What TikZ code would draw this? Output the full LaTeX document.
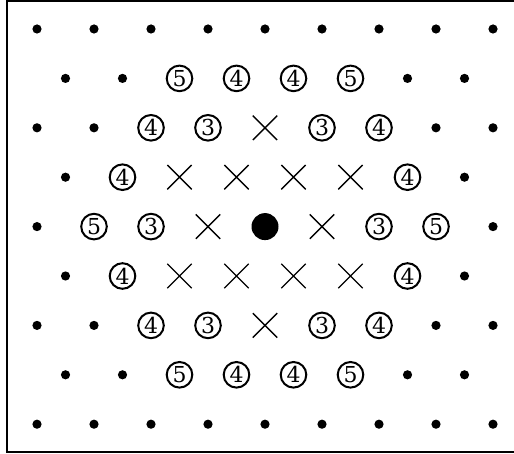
\documentclass[tikz,border=0pt]{standalone}
\usepackage{fontspec}
\newfontfamily\digitfont{DejaVu Serif}
\usetikzlibrary{shapes.misc}
\begin{document}
\begin{tikzpicture}[
  x=0.5pt, y=-0.5pt,
  dot/.style={circle,fill,inner sep=0pt,minimum size=4.6pt},
  bigdot/.style={circle,fill,inner sep=0pt,minimum size=13.5pt},
  xmark/.style={cross out,draw,line width=0.7pt,inner sep=0pt,minimum size=11.5pt},
  num/.style={circle,draw,line width=1pt,inner sep=0pt,minimum size=12.8pt,font=\digitfont\fontsize{11}{11}\selectfont},
  kd/.style={dot,node contents={}},
  kx/.style={xmark,node contents={}},
  ko/.style={bigdot,node contents={}},
  k3/.style={num,node contents=3},
  k4/.style={num,node contents=4},
  k5/.style={num,node contents=5}
]
\useasboundingbox (0,0) rectangle (514,454);
\draw[line width=1pt] (530,1) -- (7,1) -- (7,452) -- (530,452);

% triangular lattice, row by row
\foreach \r/\row in {0/{d,d,d,d,d,d,d,d,d},
                     1/{d,d,5,4,4,5,d,d},
                     2/{d,d,4,3,x,3,4,d,d},
                     3/{d,4,x,x,x,x,4,d},
                     4/{d,5,3,x,o,x,3,5,d},
                     5/{d,4,x,x,x,x,4,d},
                     6/{d,d,4,3,x,3,4,d,d},
                     7/{d,d,5,4,4,5,d,d},
                     8/{d,d,d,d,d,d,d,d,d}} {
  \foreach \k [count=\c from 0] in \row {
    \pgfmathsetmacro\px{37+57*\c+28.5*mod(\r,2)}
    \pgfmathsetmacro\py{29+49.4*\r}
    \node[name=p-\r-\c, at={(\px,\py)}, k\k];
  }
}
\end{tikzpicture}
\end{document}
